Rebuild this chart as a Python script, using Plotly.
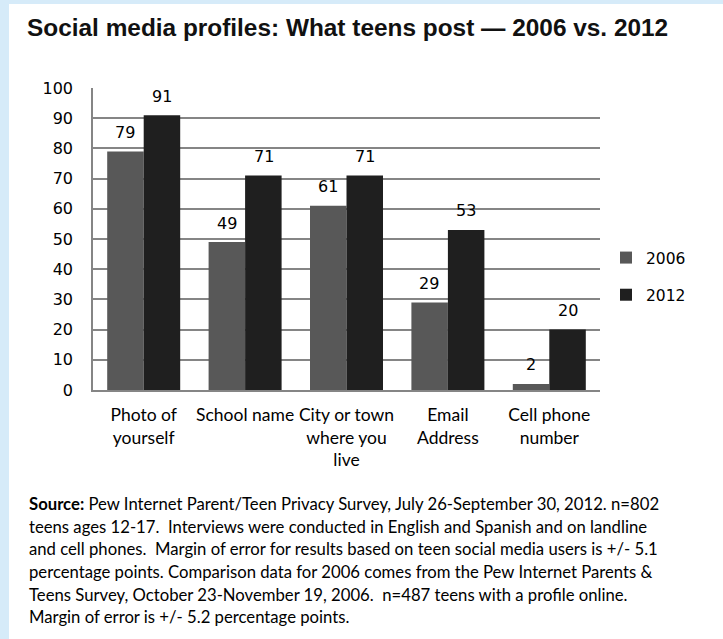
import plotly.graph_objects as go

categories = ["Photo of<br>yourself", "School name", "City or town<br>where you<br>live",
              "Email<br>Address", "Cell phone<br>number"]
series_names = ["2006", "2012"]
values_2006 = [79, 49, 61, 29, 2]
values_2012 = [91, 71, 71, 53, 20]
y_ticks = [0, 10, 20, 30, 40, 50, 60, 70, 80, 90, 100]

title_text = "Social media profiles: What teens post \u2014 2006 vs. 2012"
source_lines = [
    "<b>Source:</b> Pew Internet Parent/Teen Privacy Survey, July 26-September 30, 2012. n=802",
    "teens ages 12-17.  Interviews were conducted in English and Spanish and on landline",
    "and cell phones.  Margin of error for results based on teen social media users is +/- 5.1",
    "percentage points. Comparison data for 2006 comes from the Pew Internet Parents &",
    "Teens Survey, October 23-November 19, 2006.  n=487 teens with a profile online.",
    "Margin of error is +/- 5.2 percentage points.",
]

W, H = 723, 639
L, R, T, B = 93, 600, 88, 390


def px_x(px):
    return (px - L) / (R - L)


def px_y(py):
    return 1 - (py - T) / (B - T)


colors = ["#585858", "#1f1f1f"]
fig = go.Figure()
for i, (name, vals) in enumerate(zip(series_names, [values_2006, values_2012])):
    fig.add_trace(go.Bar(
        x=categories, y=vals, name=name, legendgroup=name,
        marker=dict(color=colors[i], line=dict(width=0)),
    ))
    for c, v in zip(categories, vals):
        fig.add_annotation(
            x=c, y=v, xref="x", yref="y", text=str(v), showarrow=False,
            xshift=(-18.5 if i == 0 else 18.5), yshift=19, yanchor="middle",
            font=dict(family="DejaVu Sans", size=16, color="#000000"),
        )

for k, line in enumerate(source_lines):
    yc = [504, 527, 549, 572, 595, 617][k]
    fig.add_annotation(
        x=px_x(27), y=px_y(yc), xref="paper", yref="paper", text=line,
        showarrow=False, xanchor="left", yanchor="middle", align="left",
        font=dict(family="Lato", size=16.7, color="#000000"),
    )

# white panel over light-blue page border
fig.add_shape(type="rect", xref="paper", yref="paper",
              x0=px_x(9), x1=px_x(W + 5), y0=px_y(4), y1=px_y(H + 5),
              fillcolor="white", line=dict(width=0), layer="below")

fig.update_layout(
    width=W, height=H,
    margin=dict(l=L, r=W - R, t=T, b=H - B, pad=0),
    paper_bgcolor="#d6ebf9", plot_bgcolor="white",
    barmode="group", bargap=0.28, bargroupgap=0,
    title=dict(text=title_text, xref="container", yref="container",
               x=27 / W, y=1 - 27 / H, xanchor="left", yanchor="middle",
               font=dict(family="Liberation Sans", size=24.4, color="#111111", weight="bold")),
    legend=dict(x=px_x(606), y=px_y(241), xanchor="left", yanchor="top",
                font=dict(family="DejaVu Sans", size=15.5, color="#000000"),
                tracegroupgap=14, bgcolor="rgba(0,0,0,0)", itemclick=False),
    showlegend=True,
)
fig.update_yaxes(range=[0, 100], tickvals=y_ticks, showgrid=True, gridcolor="#858585",
                 gridwidth=1.5, showline=True, linecolor="#858585", linewidth=1.5,
                 ticks="", ticklabelstandoff=15, zeroline=False,
                 tickfont=dict(family="DejaVu Sans", size=16, color="#000000"))
fig.update_xaxes(showline=True, linecolor="#858585", linewidth=1.5, ticks="",
                 ticklabelstandoff=8,
                 tickfont=dict(family="Lato", size=17.5, color="#000000"))

fig.write_html("out.html")
